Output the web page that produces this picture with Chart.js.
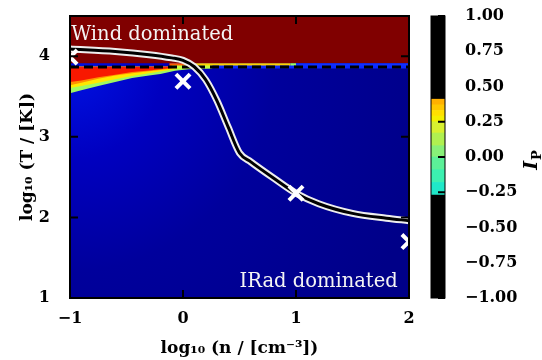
<!DOCTYPE html>
<html>
<head>
<meta charset="utf-8">
<script src="https://cdn.jsdelivr.net/npm/chart.js@4"></script>
<style>
  html, body { margin: 0; padding: 0; background: #fff; }
  #wrap { position: relative; width: 542px; height: 360px; }
  #mainBox { position: absolute; left: 0; top: 0; width: 420px; height: 360px; }
  #barBox { position: absolute; left: 420px; top: 0; width: 122px; height: 360px; }
</style>
</head>
<body>
<div id="wrap">
  <div id="mainBox"><canvas id="phase"></canvas></div>
  <div id="barBox"><canvas id="cbar"></canvas></div>
</div>
<script>
// tick labels
const xTicks = [-1, 0, 1, 2];
const yTicks = [1, 2, 3, 4];
const cbTicks = [-1, -0.75, -0.5, -0.25, 0, 0.25, 0.5, 0.75, 1];

// equilibrium curve, log n vs log T
const curveN = [-1, -0.6, -0.3, -0.1, 0, 0.1, 0.2, 0.3, 0.4, 0.5, 0.6, 0.8, 1.0, 1.2, 1.5, 1.8, 2.0];
const curveT = [4.09, 4.06, 4.02, 3.98, 3.95, 3.87, 3.71, 3.45, 3.12, 2.80, 2.69, 2.49, 2.30, 2.17, 2.05, 1.99, 1.96];

// simulation runs (white crosses)
const runN = [-1, 0, 1, 2];
const runT = [3.99, 3.69, 2.3, 1.7];

// dashed threshold
const threshN = [-1, 2];
const threshT = [3.867, 3.867];

// lower edge of the wind dominated block
const windN = [-1, 2];
const windT = [3.915, 3.915];

// I_P wedge at low density: lower edges of each colour band
const wedgeN = [-1, -0.9, -0.75, -0.6, -0.45, -0.3, -0.2, -0.07, 0.05, 0.25];
const wedgeGreen = [3.54, 3.58, 3.63, 3.68, 3.73, 3.76, 3.78, 3.82, 3.84, 3.85];
const wedgeYellow = [3.605, 3.63, 3.67, 3.715, 3.755, 3.79, 3.81, 3.84, 3.86, 3.865];
const wedgeOrange = [3.64, 3.67, 3.72, 3.76, 3.79, 3.815, 3.83, 3.85, 3.865, 3.865];
const wedgeRed = [3.68, 3.70, 3.74, 3.77, 3.805, 3.825, 3.84, 3.86, 3.865, 3.865];
const wedgeTop = 3.87;

// single cell rows around the threshold
const rowAboveN = [-0.12, 0.06, 0.95, 1.0, 2.0];
const rowAboveT = [3.895, 3.895, 3.895, 3.895, 3.895];
const rowBelowN = [-0.1, 0.26, 2.0];
const rowBelowT = [3.867, 3.867, 3.867];

// colour bar levels
const cbLevels = [-1, -0.27, -0.18, -0.09, 0, 0.08, 0.17, 0.25, 0.29, 0.33, 0.37, 0.41, 1];

const cbColors = ['#000000', '#20e8c8', '#3cf0b0', '#5cf098', '#88f078', '#b0f050', '#d8f030',
                  '#f4f000', '#ffe000', '#ffc800', '#ffb000', '#000000'];
const rowAboveColors = ['#ff5a00', '#ffd000', '#9cff60', '#1030ff'];
const rowBelowColors = ['#c0ff40', '#0a28ff'];

const pts = (xs, ys) => xs.map((x, i) => ({ x: x, y: ys[i] }));
const fmt = v => String(v).replace('-', '\u2212');
const fmt2 = v => v.toFixed(2).replace('-', '\u2212');
const serif = '"DejaVu Serif", serif';

// keep label overhang from pushing the plot area around
const noPad = s => { s.paddingTop = 0; s.paddingBottom = 0; s.paddingLeft = 0; s.paddingRight = 0; };

const phaseDecor = {
    id: 'phaseDecor',
    beforeDatasetsDraw(chart) {
        const { ctx, chartArea: a } = chart;
        const g = ctx.createRadialGradient(a.left, a.top + 50, 0, a.left, a.top + 50, a.width * 1.1);
        g.addColorStop(0, '#0012e4');
        g.addColorStop(0.25, '#0000c0');
        g.addColorStop(0.55, '#00009c');
        g.addColorStop(1, '#000088');
        ctx.save();
        ctx.fillStyle = g;
        ctx.fillRect(a.left, a.top, a.width, a.height);
        ctx.restore();
    },
    afterDatasetsDraw(chart) {
        const { ctx, chartArea: a, scales: { x, y } } = chart;
        ctx.save();
        ctx.font = '19.5px ' + serif;
        ctx.fillStyle = '#f4f4f4';
        ctx.textBaseline = 'alphabetic';
        ctx.textAlign = 'left';
        ctx.fillText('Wind dominated', x.getPixelForValue(-0.99), y.getPixelForValue(4.2));
        ctx.textAlign = 'right';
        ctx.fillText('IRad dominated', x.getPixelForValue(1.9), y.getPixelForValue(1.14));

        ctx.strokeStyle = '#000';
        ctx.lineWidth = 2;
        ctx.beginPath();
        x.ticks.forEach((t, i) => {
            const px = x.getPixelForTick(i);
            ctx.moveTo(px, a.bottom); ctx.lineTo(px, a.bottom - 8);
            ctx.moveTo(px, a.top); ctx.lineTo(px, a.top + 8);
        });
        y.ticks.forEach((t, i) => {
            const py = y.getPixelForTick(i);
            ctx.moveTo(a.left, py); ctx.lineTo(a.left + 8, py);
            ctx.moveTo(a.right, py); ctx.lineTo(a.right - 8, py);
        });
        ctx.stroke();
        ctx.strokeRect(a.left, a.top, a.width, a.height);
        ctx.restore();
    }
};

const base = { pointRadius: 0, borderWidth: 0, clip: 0 };

new Chart(document.getElementById('phase').getContext('2d'), {
    type: 'line',
    data: {
        datasets: [
            { ...base, data: pts(windN, windT), fill: 'end', backgroundColor: '#800000', order: 20 },
            { ...base, data: pts(wedgeN, wedgeGreen), fill: { value: wedgeTop }, backgroundColor: '#a0f860', order: 19 },
            { ...base, data: pts(wedgeN, wedgeYellow), fill: { value: wedgeTop }, backgroundColor: '#ffe800', order: 18 },
            { ...base, data: pts(wedgeN, wedgeOrange), fill: { value: wedgeTop }, backgroundColor: '#ff9000', order: 17 },
            { ...base, data: pts(wedgeN, wedgeRed), fill: { value: wedgeTop }, backgroundColor: '#f81800', order: 16 },
            { ...base, data: pts(rowAboveN, rowAboveT), borderWidth: 3, order: 15,
              segment: { borderColor: c => rowAboveColors[c.p0DataIndex] } },
            { ...base, data: pts(rowBelowN, rowBelowT), borderWidth: 3, order: 14,
              segment: { borderColor: c => rowBelowColors[c.p0DataIndex] } },
            { ...base, data: pts(threshN, threshT), borderWidth: 3, borderColor: '#000',
              borderDash: [9, 5], order: 13 },
            { ...base, data: pts(curveN, curveT), borderWidth: 7, borderColor: '#eeeeee',
              cubicInterpolationMode: 'monotone', order: 12 },
            { ...base, data: pts(curveN, curveT), borderWidth: 3, borderColor: '#000',
              cubicInterpolationMode: 'monotone', order: 11 },
            { data: pts(runN, runT), showLine: false, pointStyle: 'crossRot', pointRadius: 10,
              pointBorderWidth: 4, borderColor: '#fff', pointHoverRadius: 10, clip: 0, order: 1 }
        ]
    },
    options: {
        responsive: true,
        maintainAspectRatio: false,
        animation: false,
        layout: { autoPadding: false, padding: { top: 16, right: 11, left: 0, bottom: 0 } },
        plugins: { legend: { display: false }, tooltip: { enabled: false } },
        scales: {
            x: {
                type: 'linear', min: -1, max: 2,
                afterBuildTicks: s => { s.ticks = xTicks.map(v => ({ value: v })); },
                afterFit: s => { s.height = 62; noPad(s); },
                grid: { display: false },
                border: { display: false },
                ticks: { callback: fmt, color: '#000', padding: 3,
                         font: { family: serif, size: 16, weight: 'bold' }, maxRotation: 0 },
                title: { display: true, text: 'log\u2081\u2080 (n / [cm\u207B\u00B3])', color: '#000',
                         font: { family: serif, size: 17, weight: 'bold' }, padding: { bottom: 1 } }
            },
            y: {
                type: 'linear', min: 1, max: 4.5,
                afterBuildTicks: s => { s.ticks = yTicks.map(v => ({ value: v })); },
                afterFit: s => { s.width = 70; noPad(s); },
                grid: { display: false },
                border: { display: false },
                ticks: { callback: fmt, color: '#000', padding: 12,
                         font: { family: serif, size: 16, weight: 'bold' } },
                title: { display: true, text: 'log\u2081\u2080 (T / [K])', color: '#000',
                         font: { family: serif, size: 17, weight: 'bold' }, padding: { top: 17 } }
            }
        }
    },
    plugins: [phaseDecor]
});

const cbarDecor = {
    id: 'cbarDecor',
    afterDatasetsDraw(chart) {
        const { ctx, chartArea: a, scales: { y } } = chart;
        ctx.save();
        ctx.strokeStyle = '#000';
        ctx.lineWidth = 2;
        ctx.beginPath();
        y.ticks.forEach((t, i) => {
            const py = y.getPixelForTick(i);
            ctx.moveTo(a.right, py); ctx.lineTo(a.right - 7, py);
        });
        ctx.stroke();
        ctx.lineWidth = 1;
        ctx.strokeRect(a.left, a.top, a.width, a.height);

        // colour bar label I_P
        ctx.translate(110, (a.top + a.bottom) / 2 + 3);
        ctx.rotate(-Math.PI / 2);
        ctx.fillStyle = '#000';
        ctx.textBaseline = 'alphabetic';
        ctx.textAlign = 'left';
        ctx.font = 'italic bold 19px ' + serif;
        const wI = ctx.measureText('I').width;
        ctx.font = 'bold 13px ' + serif;
        const wP = ctx.measureText('P').width;
        const x0 = -(wI + wP + 1) / 2;
        ctx.font = 'italic bold 19px ' + serif;
        ctx.fillText('I', x0, 7);
        ctx.font = 'bold 13px ' + serif;
        ctx.fillText('P', x0 + wI + 1, 11);
        ctx.restore();
    }
};

new Chart(document.getElementById('cbar').getContext('2d'), {
    type: 'bar',
    data: {
        labels: ['I'],
        datasets: cbColors.map((c, i) => ({
            data: [[cbLevels[i], cbLevels[i + 1]]],
            backgroundColor: c,
            borderWidth: 0,
            barPercentage: 1,
            categoryPercentage: 1,
            grouped: false
        }))
    },
    options: {
        responsive: true,
        maintainAspectRatio: false,
        animation: false,
        layout: { padding: { top: 16, left: 11, right: 0, bottom: 62 } },
        plugins: { legend: { display: false }, tooltip: { enabled: false } },
        scales: {
            x: { display: false },
            y: {
                position: 'right', min: -1, max: 1,
                afterBuildTicks: s => { s.ticks = cbTicks.map(v => ({ value: v })); },
                afterFit: s => { s.width = 97; noPad(s); },
                grid: { display: false },
                border: { display: false },
                ticks: { callback: fmt2, color: '#000', padding: 12,
                         font: { family: serif, size: 16, weight: 'bold' } }
            }
        }
    },
    plugins: [cbarDecor]
});
</script>
</body>
</html>
